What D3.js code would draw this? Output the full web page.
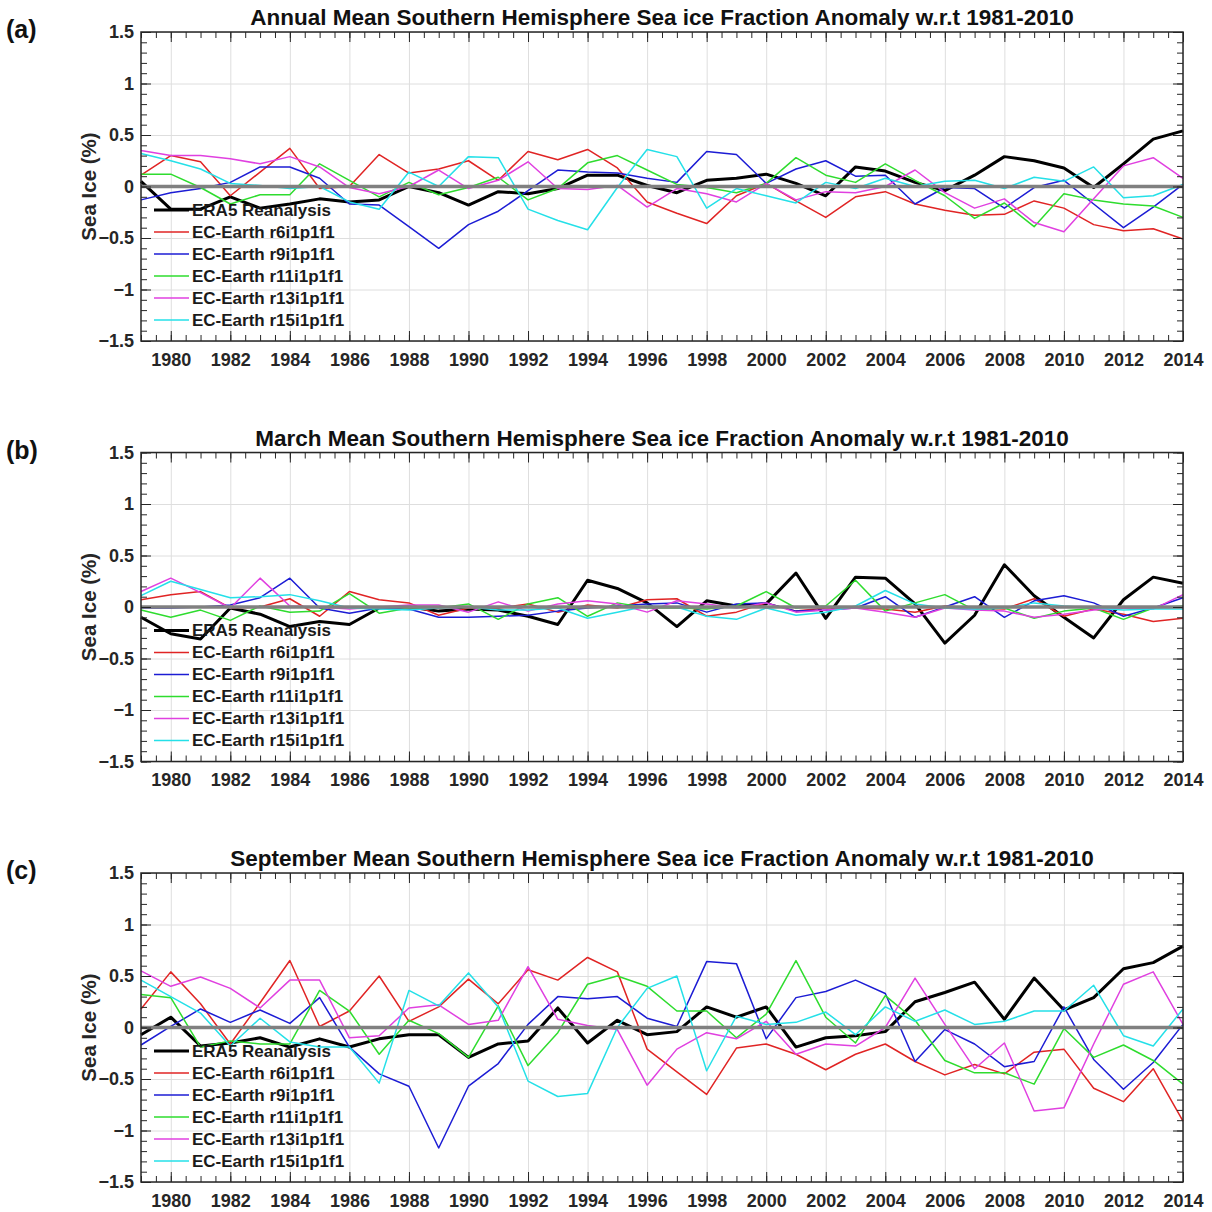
<!DOCTYPE html>
<html lang="en">
  <head>
    <meta charset="UTF-8" />
    <title>Southern Hemisphere Sea Ice Fraction Anomaly</title>
    <script src="https://d3js.org/d3.v7.min.js"></script>
    <style>
      body {
        margin: 0;
        background: white;
      }
      svg {
        font-family: "Liberation Sans", Arial, sans-serif;
      }
      .grid line {
        stroke: #dedede;
        stroke-width: 1;
      }
      .grid path {
        display: none;
      }
      .tick-ax path {
        display: none;
      }
      .tick-ax line {
        stroke: #262626;
        stroke-width: 1;
      }
      .tick-ax text {
        font-size: 18px;
        font-weight: bold;
        fill: #262626;
      }
    </style>
  </head>
  <body>
    <script>
      // years on the x axis
      const years = d3.range(1979, 2015);

      // (a) annual mean
      const annualERA5 = [0.05, -0.22, -0.22, -0.1, -0.21, -0.17, -0.12, -0.15, -0.13, 0.0, -0.06, -0.18, -0.05, -0.07, -0.02, 0.11, 0.11, 0.01, -0.06, 0.06, 0.08, 0.12, 0.03, -0.09, 0.19, 0.15, 0.04, -0.04, 0.11, 0.29, 0.25, 0.18, -0.01, 0.22, 0.46, 0.54];
      const annualR6 = [0.11, 0.3, 0.24, -0.09, 0.14, 0.37, -0.02, 0.0, 0.31, 0.13, 0.17, 0.25, 0.06, 0.34, 0.26, 0.36, 0.18, -0.15, -0.26, -0.36, -0.09, 0.03, -0.14, -0.3, -0.1, -0.05, -0.17, -0.23, -0.28, -0.27, -0.14, -0.21, -0.37, -0.43, -0.41, -0.51];
      const annualR9 = [-0.13, -0.06, -0.02, 0.04, 0.19, 0.19, 0.08, -0.17, -0.18, -0.39, -0.6, -0.37, -0.24, -0.04, 0.16, 0.14, 0.13, 0.08, 0.04, 0.34, 0.31, 0.03, 0.17, 0.25, 0.1, 0.11, -0.17, -0.01, -0.02, -0.21, -0.01, 0.06, -0.17, -0.4, -0.2, 0.02];
      const annualR11 = [0.12, 0.12, -0.01, -0.17, -0.08, -0.08, 0.22, 0.06, -0.1, 0.04, -0.08, -0.01, 0.09, -0.13, -0.02, 0.23, 0.3, 0.16, 0.02, -0.01, -0.06, 0.03, 0.28, 0.11, 0.04, 0.22, 0.06, -0.09, -0.31, -0.16, -0.39, -0.07, -0.13, -0.17, -0.19, -0.3];
      const annualR13 = [0.35, 0.3, 0.3, 0.27, 0.22, 0.29, 0.19, -0.01, -0.07, 0.0, 0.16, -0.02, 0.06, 0.24, -0.02, -0.03, 0.01, -0.2, -0.02, -0.07, -0.15, 0.03, -0.13, -0.05, -0.06, 0.0, 0.16, -0.06, -0.21, -0.12, -0.35, -0.44, -0.12, 0.2, 0.28, 0.08];
      const annualR15 = [0.32, 0.25, 0.17, 0.03, 0.01, -0.02, 0.0, -0.15, -0.22, 0.14, 0.0, 0.29, 0.28, -0.22, -0.33, -0.42, -0.01, 0.36, 0.29, -0.21, -0.02, -0.09, -0.16, 0.04, -0.02, 0.08, 0.0, 0.05, 0.06, -0.02, 0.09, 0.05, 0.19, -0.11, -0.09, 0.02];

      // (b) March mean
      const marchERA5 = [-0.1, -0.26, -0.31, -0.01, -0.07, -0.19, -0.14, -0.17, -0.01, 0.0, -0.04, -0.02, -0.03, -0.09, -0.17, 0.26, 0.18, 0.04, -0.19, 0.06, 0.01, 0.03, 0.33, -0.11, 0.29, 0.28, 0.03, -0.35, -0.08, 0.41, 0.11, -0.1, -0.3, 0.07, 0.29, 0.23];
      const marchR6 = [0.07, 0.12, 0.15, -0.01, 0.0, 0.08, -0.09, 0.15, 0.07, 0.04, -0.08, -0.01, -0.01, 0.03, -0.05, 0.02, -0.01, 0.07, 0.08, -0.09, -0.05, 0.04, -0.04, -0.01, -0.01, -0.02, -0.05, 0.01, -0.01, -0.02, 0.08, -0.09, -0.02, -0.07, -0.14, -0.11];
      const marchR9 = [-0.01, -0.01, 0.0, 0.02, 0.09, 0.28, -0.01, -0.06, -0.01, -0.02, -0.1, -0.1, -0.09, -0.08, -0.04, -0.01, 0.01, 0.03, 0.04, -0.05, 0.03, 0.04, -0.04, -0.03, -0.01, 0.1, -0.1, 0.0, 0.1, -0.1, 0.06, 0.11, 0.04, -0.09, -0.01, 0.09];
      const marchR11 = [-0.03, -0.1, -0.03, -0.13, 0.01, -0.05, -0.04, 0.13, -0.06, -0.01, -0.01, 0.03, -0.12, 0.03, 0.09, -0.09, 0.04, -0.01, -0.01, -0.02, 0.01, 0.15, -0.01, 0.01, 0.26, -0.04, 0.04, 0.12, -0.03, -0.01, -0.11, -0.04, -0.01, -0.12, -0.01, 0.01];
      const marchR13 = [0.15, 0.28, 0.14, -0.01, 0.28, 0.01, 0.0, -0.02, 0.0, 0.02, 0.02, -0.05, 0.05, -0.04, 0.03, 0.06, 0.03, -0.05, 0.06, 0.03, -0.01, 0.04, -0.05, -0.03, -0.01, -0.05, -0.1, -0.01, -0.03, -0.04, -0.1, -0.07, -0.03, -0.01, -0.02, 0.12];
      const marchR15 = [0.11, 0.25, 0.17, 0.09, 0.1, 0.12, 0.06, -0.01, -0.02, -0.03, -0.01, 0.0, -0.03, -0.03, -0.01, -0.11, -0.05, 0.01, 0.0, -0.09, -0.12, -0.01, -0.08, -0.05, 0.01, 0.16, 0.03, -0.01, -0.02, -0.01, 0.04, 0.01, -0.01, -0.03, -0.02, -0.02];

      // (c) September mean
      const septERA5 = [-0.07, 0.1, -0.18, -0.15, -0.1, -0.19, -0.11, -0.19, -0.11, -0.07, -0.07, -0.29, -0.16, -0.13, 0.19, -0.15, 0.07, -0.07, -0.04, 0.2, 0.1, 0.2, -0.19, -0.1, -0.08, -0.04, 0.25, 0.34, 0.44, 0.08, 0.48, 0.17, 0.29, 0.57, 0.63, 0.79];
      const septR6 = [0.18, 0.54, 0.23, -0.16, 0.24, 0.65, 0.01, 0.16, 0.5, 0.06, 0.2, 0.47, 0.23, 0.56, 0.46, 0.68, 0.54, -0.21, -0.43, -0.65, -0.2, -0.16, -0.26, -0.41, -0.26, -0.16, -0.33, -0.46, -0.36, -0.45, -0.24, -0.21, -0.59, -0.72, -0.4, -0.91];
      const septR9 = [-0.17, 0.01, 0.18, 0.05, 0.17, 0.04, 0.29, -0.19, -0.45, -0.57, -1.17, -0.57, -0.35, 0.03, 0.3, 0.28, 0.3, 0.09, 0.01, 0.64, 0.62, -0.11, 0.29, 0.35, 0.46, 0.33, -0.33, -0.02, -0.16, -0.38, -0.33, 0.2, -0.31, -0.6, -0.34, 0.03];
      const septR11 = [0.32, 0.29, -0.19, -0.13, -0.16, -0.16, 0.36, 0.16, -0.26, 0.07, -0.06, -0.29, 0.21, -0.37, -0.05, 0.42, 0.5, 0.4, 0.16, 0.16, -0.1, 0.13, 0.65, 0.1, -0.15, 0.31, 0.07, -0.32, -0.44, -0.44, -0.55, -0.01, -0.29, -0.17, -0.32, -0.55];
      const septR13 = [0.55, 0.4, 0.49, 0.38, 0.19, 0.46, 0.46, -0.1, -0.08, 0.19, 0.22, 0.03, 0.07, 0.59, 0.08, 0.02, -0.02, -0.56, -0.21, -0.05, -0.11, 0.06, -0.26, -0.16, -0.18, 0.0, 0.48, 0.03, -0.4, -0.15, -0.81, -0.78, -0.16, 0.42, 0.54, 0.03];
      const septR15 = [0.46, 0.3, 0.14, -0.18, 0.09, -0.14, -0.19, -0.19, -0.54, 0.36, 0.21, 0.53, 0.2, -0.52, -0.67, -0.64, 0.0, 0.38, 0.5, -0.42, 0.11, 0.03, 0.05, 0.15, -0.07, 0.2, 0.06, 0.17, 0.03, 0.06, 0.16, 0.16, 0.41, -0.08, -0.18, 0.18];

      const seriesNames = ["ERA5 Reanalysis", "EC-Earth r6i1p1f1", "EC-Earth r9i1p1f1", "EC-Earth r11i1p1f1", "EC-Earth r13i1p1f1", "EC-Earth r15i1p1f1"];
      const seriesColors = ["#000000", "#e02424", "#1c1cd4", "#2edc2e", "#e040e0", "#24e0e8"];
      const seriesWidths = [3, 1.5, 1.5, 1.5, 1.5, 1.5];

      const panelLabels = ["(a)", "(b)", "(c)"];
      const panelTitles = [
        "Annual Mean Southern Hemisphere Sea ice Fraction Anomaly w.r.t 1981-2010",
        "March Mean Southern Hemisphere Sea ice Fraction Anomaly w.r.t 1981-2010",
        "September Mean Southern Hemisphere Sea ice Fraction Anomaly w.r.t 1981-2010"
      ];
      const panelData = [
        [annualERA5, annualR6, annualR9, annualR11, annualR13, annualR15],
        [marchERA5, marchR6, marchR9, marchR11, marchR13, marchR15],
        [septERA5, septR6, septR9, septR11, septR13, septR15]
      ];

      const yTicks = [-1.5, -1, -0.5, 0, 0.5, 1, 1.5];
      const xTicks = d3.range(1980, 2015, 2);

      const W = 1212, H = 1212;
      const left = 141, right = 1183, plotH = 309;
      const svg = d3.select("body").append("svg").attr("width", W).attr("height", H);

      const x = d3.scaleLinear().domain([1979, 2014]).range([left, right]);

      panelData.forEach(function (series, i) {
        const top = 32 + i * 420.5;
        const y = d3.scaleLinear().domain([-1.5, 1.5]).range([top + plotH, top]);
        const g = svg.append("g");

        // grid
        g.append("g")
          .attr("class", "grid")
          .attr("transform", `translate(0,${top + plotH})`)
          .call(d3.axisBottom(x).tickValues(xTicks).tickSize(-plotH).tickFormat(""));
        g.append("g")
          .attr("class", "grid")
          .attr("transform", `translate(${left},0)`)
          .call(d3.axisLeft(y).tickValues(yTicks).tickSize(-(right - left)).tickFormat(""));

        // data lines
        const line = d3.line()
          .x((d, k) => x(years[k]))
          .y(d => y(d));
        series.forEach(function (vals, s) {
          g.append("path")
            .datum(vals)
            .attr("d", line)
            .attr("fill", "none")
            .attr("stroke", seriesColors[s])
            .attr("stroke-width", seriesWidths[s])
            .attr("stroke-linejoin", "round");
        });

        // zero line
        g.append("line")
          .attr("x1", left).attr("x2", right)
          .attr("y1", y(0)).attr("y2", y(0))
          .attr("stroke", "#808080")
          .attr("stroke-width", 3.5);

        // ticks, inward on all four sides
        const minorX = d3.range(1979, 2014.01, 0.5);
        const minorY = d3.range(-15, 16).map(v => v / 10);
        const addAxis = function (axis, tx, ty) {
          return g.append("g").attr("class", "tick-ax").attr("transform", `translate(${tx},${ty})`).call(axis);
        };
        addAxis(d3.axisBottom(x).tickValues(minorX).tickSize(-6).tickFormat(""), 0, top + plotH);
        addAxis(d3.axisTop(x).tickValues(minorX).tickSize(-6).tickFormat(""), 0, top);
        addAxis(d3.axisLeft(y).tickValues(minorY).tickSize(-6).tickFormat(""), left, 0);
        addAxis(d3.axisRight(y).tickValues(minorY).tickSize(-6).tickFormat(""), right, 0);
        addAxis(d3.axisTop(x).tickValues(xTicks).tickSize(-10).tickFormat(""), 0, top);
        addAxis(d3.axisRight(y).tickValues(yTicks).tickSize(-10).tickFormat(""), right, 0);

        const xa = addAxis(d3.axisBottom(x).tickValues(xTicks).tickSize(-10).tickFormat(d3.format("d")), 0, top + plotH);
        xa.selectAll("text").attr("y", 12);
        const ya = addAxis(d3.axisLeft(y).tickValues(yTicks).tickSize(-10).tickFormat(d3.format("")), left, 0);
        ya.selectAll("text").attr("x", -7);

        // frame
        g.append("rect")
          .attr("x", left).attr("y", top)
          .attr("width", right - left).attr("height", plotH)
          .attr("fill", "none")
          .attr("stroke", "#262626")
          .attr("stroke-width", 1.5);

        // legend (no box)
        series.forEach(function (vals, s) {
          const ly = top + 178 + s * 22;
          g.append("line")
            .attr("x1", 154).attr("x2", 189)
            .attr("y1", ly).attr("y2", ly)
            .attr("stroke", seriesColors[s])
            .attr("stroke-width", seriesWidths[s]);
          g.append("text")
            .attr("x", 192).attr("y", ly)
            .attr("dy", "0.35em")
            .attr("font-size", 17)
            .attr("font-weight", "bold")
            .attr("fill", "#1a1a1a")
            .text(seriesNames[s]);
        });

        // title, panel label, y label
        g.append("text")
          .attr("x", (left + right) / 2).attr("y", top - 7)
          .attr("text-anchor", "middle")
          .attr("font-size", 22.5)
          .attr("font-weight", "bold")
          .attr("fill", "#111")
          .text(panelTitles[i]);
        g.append("text")
          .attr("x", 6).attr("y", top + 6)
          .attr("font-size", 25)
          .attr("font-weight", "bold")
          .attr("fill", "#111")
          .text(panelLabels[i]);
        g.append("text")
          .attr("transform", `translate(96,${top + plotH / 2}) rotate(-90)`)
          .attr("text-anchor", "middle")
          .attr("font-size", 20.5)
          .attr("font-weight", "bold")
          .attr("fill", "#262626")
          .text("Sea Ice (%)");
      });
    </script>
  </body>
</html>
